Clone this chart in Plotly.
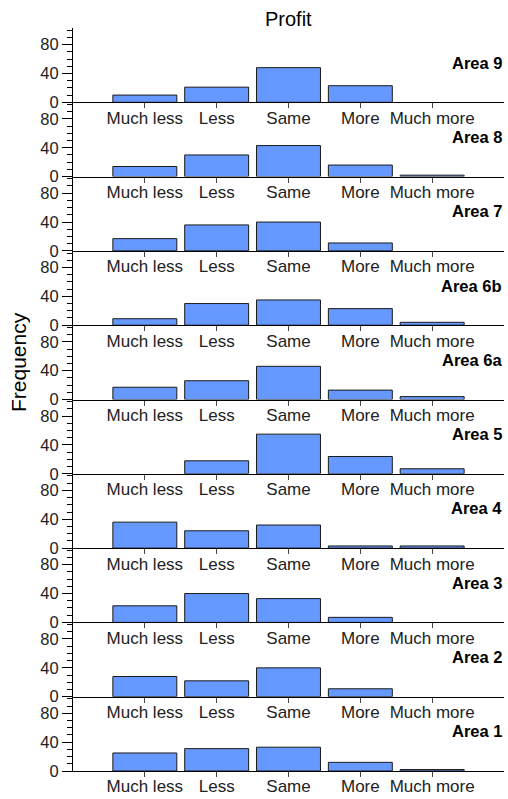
import plotly.graph_objects as go

categories = ["Much less", "Less", "Same", "More", "Much more"]
areas = ["Area 9", "Area 8", "Area 7", "Area 6b", "Area 6a",
         "Area 5", "Area 4", "Area 3", "Area 2", "Area 1"]

area9 = [10, 21, 48, 23, 0]
area8 = [14, 30, 43, 16, 2]
area7 = [17, 36, 40, 11, 0]
area6b = [9, 30, 35, 23, 4]
area6a = [17, 26, 46, 13, 4]
area5 = [0, 18, 55, 24, 7]
area4 = [36, 24, 32, 3, 3]
area3 = [23, 40, 33, 7, 0]
area2 = [28, 22, 40, 11, 0]
area1 = [25, 31, 33, 12, 2]

values = [area9, area8, area7, area6b, area6a, area5, area4, area3, area2, area1]

y_tickvals = [0, 40, 80]
title_text = "Profit"
y_title = "Frequency"

FONT = "Liberation Sans, Arial, sans-serif"
n = len(areas)
Y_MAX = 103
fig = go.Figure()
layout = {}
annotations = []

for i, (name, vals) in enumerate(zip(areas, values)):
    k = i + 1
    xa = "x" if k == 1 else f"x{k}"
    ya = "y" if k == 1 else f"y{k}"
    shown = [v if v > 0 else None for v in vals]
    fig.add_trace(go.Bar(
        x=categories, y=shown, xaxis=xa, yaxis=ya, width=0.89,
        marker=dict(color="#6699ff", line=dict(color="#1a1a1a", width=1)),
        showlegend=False, name=name,
    ))
    d0 = (n - 1 - i) / n
    d1 = (n - i) / n
    xkey = "xaxis" if k == 1 else f"xaxis{k}"
    ykey = "yaxis" if k == 1 else f"yaxis{k}"
    layout[xkey] = dict(
        domain=[0, 1], anchor=ya, type="category", range=[-1, 5],
        showline=True, linecolor="black", linewidth=1,
        ticks="outside", ticklen=5, tickcolor="#444", showgrid=False,
        zeroline=False, tickfont=dict(size=17, color="#222", family=FONT),
        ticklabelstandoff=-5, automargin=False, fixedrange=True,
    )
    layout[ykey] = dict(
        domain=[d0, d1], anchor=xa, range=[0, Y_MAX],
        tickvals=y_tickvals, ticks="outside", ticklen=10, tickcolor="black",
        minor=dict(dtick=10, ticks="outside", ticklen=5, tickcolor="black"),
        showline=True, linecolor="black", linewidth=1, showgrid=False,
        zeroline=False, tickfont=dict(size=16.5, color="#222", family=FONT),
        automargin=False,
    )
    annotations.append(dict(
        text=f"<b>{name}</b>", xref="paper", yref="paper", x=1.0,
        y=d0 + (d1 - d0) * 55 / Y_MAX,
        xanchor="right", yanchor="middle", showarrow=False,
        font=dict(size=16.5, color="black", family=FONT),
    ))

annotations.append(dict(
    text=title_text, xref="paper", yref="paper", x=0.5, y=1 + 9 / 743,
    xanchor="center", yanchor="middle", showarrow=False,
    font=dict(size=20, color="black", family=FONT),
))
annotations.append(dict(
    text=y_title, xref="paper", yref="paper", x=(18 - 73) / 431,
    y=(771 - 362) / 743, xanchor="center", yanchor="middle",
    textangle=-90, showarrow=False,
    font=dict(size=21, color="black", family=FONT),
))

fig.update_layout(
    width=508, height=799,
    margin=dict(l=73, r=4, t=28, b=28, autoexpand=False),
    paper_bgcolor="white", plot_bgcolor="white",
    annotations=annotations,
    font=dict(family=FONT),
    hovermode=False,
    **layout,
)

# remove the browser's default 8px body margin so the figure fills the window
fig.write_html(
    "out.html",
    config={"displayModeBar": False, "staticPlot": True},
    post_script="document.body.style.margin='0';document.body.style.overflow='hidden';",
)
